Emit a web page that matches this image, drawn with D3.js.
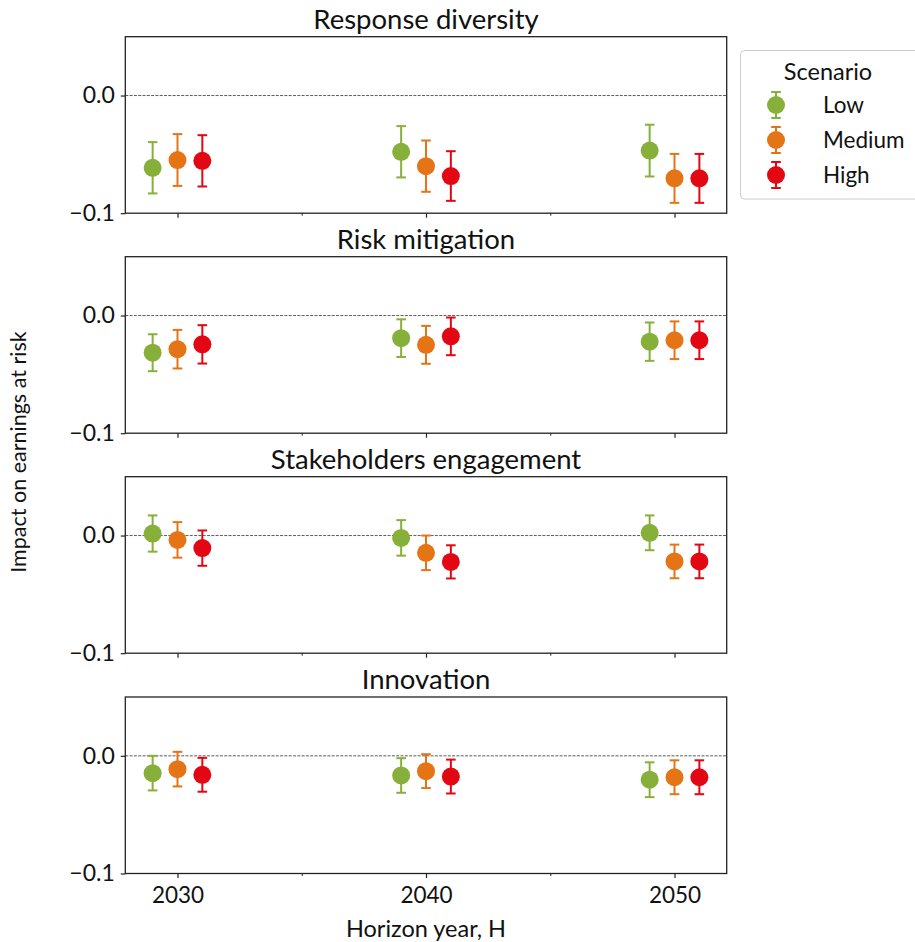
<!DOCTYPE html>
<html lang="en">
<head>
  <meta charset="utf-8">
  <title>Impact on earnings at risk</title>
  <script src="https://d3js.org/d3.v7.min.js"></script>
  <style>
    body { margin: 0; background: #fff; }
    text { font-family: Lato, "Open Sans", sans-serif; fill: #111; }
  </style>
</head>
<body>
<script type="text/javascript">

  // categories
  var panelTitles = ["Response diversity", "Risk mitigation", "Stakeholders engagement", "Innovation"];
  var scenarios = ["Low", "Medium", "High"];
  var years = [2030, 2040, 2050];
  var yTicks = [0.0, -0.1];

  // means, one row per scenario (Low, Medium, High), one column per year
  var responseDiversity = [[-0.0614, -0.0478, -0.0468], [-0.0548, -0.0600, -0.0704], [-0.0555, -0.0684, -0.0704]];
  var riskMitigation    = [[-0.0316, -0.0192, -0.0222], [-0.0286, -0.0249, -0.0210], [-0.0245, -0.0177, -0.0210]];
  var stakeholders      = [[ 0.0017, -0.0020,  0.0023], [-0.0037, -0.0147, -0.0220], [-0.0107, -0.0224, -0.0220]];
  var innovation        = [[-0.0147, -0.0167, -0.0203], [-0.0113, -0.0130, -0.0182], [-0.0161, -0.0176, -0.0182]];

  // half-widths of the error bars
  var responseDiversityErr = [[0.0218, 0.0218, 0.0220], [0.0220, 0.0218, 0.0208], [0.0218, 0.0211, 0.0208]];
  var riskMitigationErr    = [[0.0157, 0.0160, 0.0163], [0.0164, 0.0161, 0.0160], [0.0163, 0.0160, 0.0160]];
  var stakeholdersErr      = [[0.0154, 0.0151, 0.0148], [0.0151, 0.0147, 0.0143], [0.0150, 0.0141, 0.0143]];
  var innovationErr        = [[0.0147, 0.0147, 0.0148], [0.0147, 0.0144, 0.0144], [0.0144, 0.0144, 0.0144]];

  var panelMeans = [responseDiversity, riskMitigation, stakeholders, innovation];
  var panelErrs = [responseDiversityErr, riskMitigationErr, stakeholdersErr, innovationErr];

  var colors = {Low: "#86b03a", Medium: "#e57416", High: "#e30613"};
  var shift = {Low: -1, Medium: 0, High: 1};   // dodge, in years

  var svg_width = 915;
  var svg_height = 942;
  var left = 125.3, right = 726.7;
  var panelTop = [36.7, 256.7, 476.7, 697];
  var panelH = 176.5;

  var svg = d3.select("body")
              .append("svg")
              .attr("width", svg_width)
              .attr("height", svg_height);

  var xScale = d3.scaleLinear()
                 .domain([2027.9, 2052.1])
                 .range([left, right]);

  panelTitles.forEach(function(title, p) {
    var top = panelTop[p];
    var yScale = d3.scaleLinear()
                   .domain([-0.1, 0.05])
                   .range([top + panelH, top]);

    var g = svg.append("g");

    // zero line
    g.append("line")
     .attr("x1", left).attr("x2", right)
     .attr("y1", yScale(0)).attr("y2", yScale(0))
     .attr("stroke", "#333")
     .attr("stroke-width", 0.8)
     .attr("stroke-dasharray", "3,1.3");

    // y axis
    var yAxis = d3.axisLeft(yScale)
                  .tickValues(yTicks)
                  .tickSize(4.5)
                  .tickPadding(6)
                  .tickFormat(function(d) { return d3.format(".1f")(d).replace("-", "\u2212"); });
    var ya = g.append("g")
              .attr("transform", "translate(" + left + ",0)")
              .call(yAxis);
    ya.select(".domain").remove();
    ya.selectAll("text").attr("font-size", "23px").attr("font-family", "Lato").attr("fill", "#111");
    ya.selectAll("line").attr("stroke", "#222").attr("stroke-width", 1.2);

    // x axis: major + minor ticks
    var xAxis = d3.axisBottom(xScale)
                  .tickValues(years)
                  .tickSize(4.5)
                  .tickPadding(9)
                  .tickFormat(p === panelTitles.length - 1 ? d3.format("d") : "");
    var xa = g.append("g")
              .attr("transform", "translate(0," + (top + panelH) + ")")
              .call(xAxis);
    xa.select(".domain").remove();
    xa.selectAll("text").attr("font-size", "22.5px").attr("font-family", "Lato").attr("fill", "#111");
    xa.selectAll("line").attr("stroke", "#222").attr("stroke-width", 1.2);

    var xMinor = g.append("g")
                  .attr("transform", "translate(0," + (top + panelH) + ")")
                  .call(d3.axisBottom(xScale).tickValues([2035, 2045]).tickSize(2.5).tickFormat(""));
    xMinor.select(".domain").remove();
    xMinor.selectAll("line").attr("stroke", "#222").attr("stroke-width", 1);

    // frame
    g.append("rect")
     .attr("x", left).attr("y", top)
     .attr("width", right - left).attr("height", panelH)
     .attr("fill", "none")
     .attr("stroke", "#222")
     .attr("stroke-width", 1.3);

    // title
    g.append("text")
     .attr("x", (left + right) / 2)
     .attr("y", top - 8)
     .attr("text-anchor", "middle")
     .attr("font-size", "27.5px")
     .text(title);

    // points with error bars
    var rows = [];
    scenarios.forEach(function(s, i) {
      years.forEach(function(yr, j) {
        rows.push({s: s, x: yr + shift[s], m: panelMeans[p][i][j], e: panelErrs[p][i][j]});
      });
    });

    var pts = g.selectAll(".pt")
               .data(rows)
               .enter()
               .append("g")
               .attr("class", "pt");

    pts.append("line")
       .attr("x1", function(d) { return xScale(d.x); })
       .attr("x2", function(d) { return xScale(d.x); })
       .attr("y1", function(d) { return yScale(d.m + d.e); })
       .attr("y2", function(d) { return yScale(d.m - d.e); })
       .attr("stroke", function(d) { return colors[d.s]; })
       .attr("stroke-width", 2);

    [1, -1].forEach(function(sign) {
      pts.append("line")
         .attr("x1", function(d) { return xScale(d.x) - 4.8; })
         .attr("x2", function(d) { return xScale(d.x) + 4.8; })
         .attr("y1", function(d) { return yScale(d.m + sign * d.e); })
         .attr("y2", function(d) { return yScale(d.m + sign * d.e); })
         .attr("stroke", function(d) { return colors[d.s]; })
         .attr("stroke-width", 2);
    });

    pts.append("circle")
       .attr("cx", function(d) { return xScale(d.x); })
       .attr("cy", function(d) { return yScale(d.m); })
       .attr("r", 9)
       .attr("fill", function(d) { return colors[d.s]; });
  });

  // axis labels
  svg.append("text")
     .attr("x", (left + right) / 2)
     .attr("y", 937)
     .attr("text-anchor", "middle")
     .attr("font-size", "23.5px")
     .text("Horizon year, H");

  svg.append("text")
     .attr("transform", "translate(26," + ((panelTop[0] + panelTop[3] + panelH) / 2 - 3) + ") rotate(-90)")
     .attr("text-anchor", "middle")
     .attr("font-size", "21.5px")
     .text("Impact on earnings at risk");

  // legend
  var lg = svg.append("g");
  lg.append("rect")
    .attr("x", 740.5).attr("y", 50.5)
    .attr("width", 190).attr("height", 148.5)
    .attr("rx", 4)
    .attr("fill", "#fff")
    .attr("stroke", "#cccccc")
    .attr("stroke-width", 1);
  lg.append("text")
    .attr("x", 828).attr("y", 80)
    .attr("text-anchor", "middle")
    .attr("font-size", "23.5px")
    .text("Scenario");

  var items = lg.selectAll(".item")
                .data(scenarios)
                .enter()
                .append("g")
                .attr("transform", function(d, i) { return "translate(776," + (105 + i * 35) + ")"; });
  items.append("line")
       .attr("y1", -13).attr("y2", 13)
       .attr("stroke", function(d) { return colors[d]; })
       .attr("stroke-width", 2);
  items.append("line")
       .attr("x1", -4.8).attr("x2", 4.8).attr("y1", -13).attr("y2", -13)
       .attr("stroke", function(d) { return colors[d]; })
       .attr("stroke-width", 2);
  items.append("line")
       .attr("x1", -4.8).attr("x2", 4.8).attr("y1", 13).attr("y2", 13)
       .attr("stroke", function(d) { return colors[d]; })
       .attr("stroke-width", 2);
  items.append("circle")
       .attr("r", 9)
       .attr("fill", function(d) { return colors[d]; });
  items.append("text")
       .attr("x", 47)
       .attr("y", 8)
       .attr("font-size", "22.5px")
       .text(function(d) { return d; });

</script>
</body>
</html>
